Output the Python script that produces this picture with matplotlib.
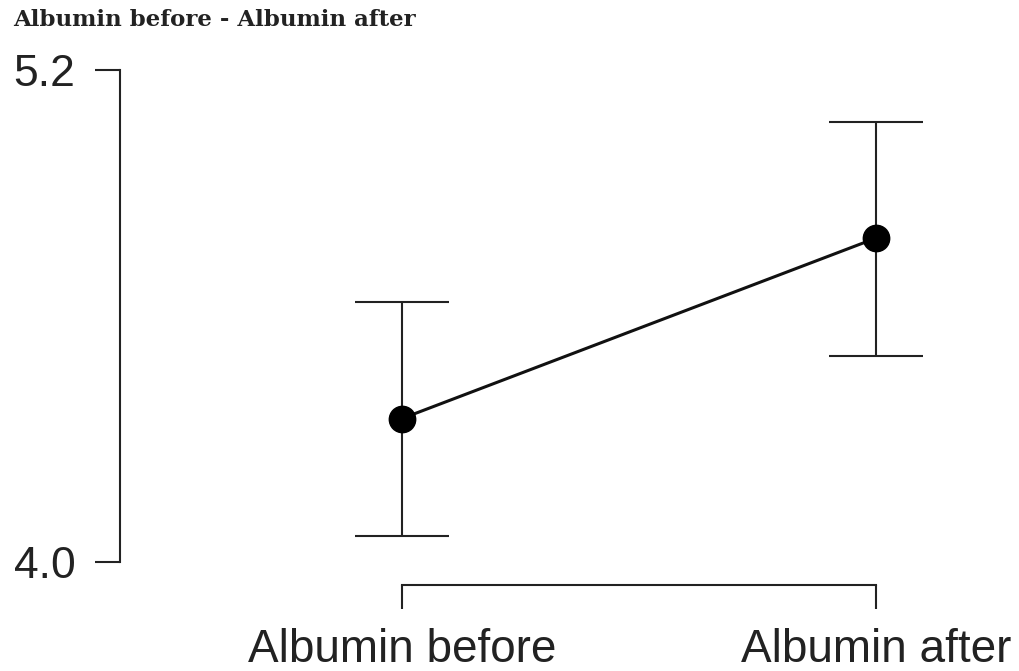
import matplotlib
matplotlib.use("Agg")
import matplotlib.pyplot as plt

# --- Data: mean albumin with 95% CI, before and after ---
conditions = ["Albumin before", "Albumin after"]
means = [4.35, 4.79]
ci_lower = [4.063, 4.502]
ci_upper = [4.634, 5.073]
y_ticks = [4.0, 5.2]
y_tick_labels = ["4.0", "5.2"]

W, H, DPI = 1019, 671, 100
fig = plt.figure(figsize=(W / DPI, H / DPI), dpi=DPI, facecolor="white")

# axes placed in pixel terms: left spine at x=120, bottom spine at y=585
left_px, right_px = 120, 1000
top_px, bottom_px = 70, 585
ax = fig.add_axes([left_px / W, (H - bottom_px) / H,
                   (right_px - left_px) / W, (bottom_px - top_px) / H])

x = list(range(len(conditions)))
yerr = [[m - lo for m, lo in zip(means, ci_lower)],
        [hi - m for m, hi in zip(means, ci_upper)]]

ax.errorbar(x, means, yerr=yerr, fmt="none", ecolor="#222222",
            elinewidth=1.5, capsize=34, capthick=1.5, zorder=2)
ax.plot(x, means, color="#111111", linewidth=2.2, marker="o",
        markersize=19, markerfacecolor="black", markeredgecolor="black",
        zorder=3)

# x range so that the two conditions sit at x=402 and x=876 px
px_per_unit = 876 - 402
ax.set_xlim(-(402 - left_px) / px_per_unit, 1 + (right_px - 876) / px_per_unit)
px_per_y = (562 - 70) / 1.2
ax.set_ylim(4.0 - (bottom_px - 562) / px_per_y, 5.2)

for side in ("top", "right"):
    ax.spines[side].set_visible(False)
ax.spines["left"].set_bounds(4.0, 5.2)
ax.spines["bottom"].set_bounds(0, 1)
for side in ("left", "bottom"):
    ax.spines[side].set_linewidth(1.5)
    ax.spines[side].set_color("#222222")

ax.set_yticks(y_ticks)
ax.set_yticklabels(y_tick_labels)
ax.set_xticks(x)
ax.set_xticklabels(conditions)
ax.tick_params(axis="y", length=18, width=1.5, pad=14, labelsize=32,
               color="#222222", labelcolor="#222222", direction="out")
ax.tick_params(axis="x", length=17, width=1.5, pad=14, labelsize=33,
               color="#222222", labelcolor="#222222", direction="out")
for lab in ax.get_xticklabels() + ax.get_yticklabels():
    lab.set_family("Liberation Sans")

fig.text(13 / W, 1 - 20 / H, "Albumin before - Albumin after",
         family="DejaVu Serif", fontweight="bold", fontsize=16.5,
         color="#222222", ha="left", va="center")

fig.savefig("out.png", dpi=DPI, facecolor="white")
